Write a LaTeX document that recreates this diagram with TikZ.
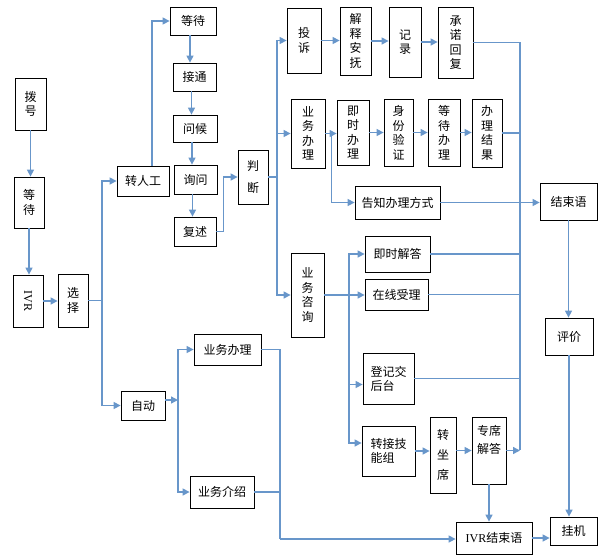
\documentclass[tikz,border=0pt]{standalone}
\usepackage{fontspec}
\usepackage{graphicx}
\setmainfont{Liberation Serif}
\newfontfamily\cjk{Noto Sans CJK SC}
\usetikzlibrary{arrows.meta}
\definecolor{lnc}{RGB}{104,150,202}
\newcommand\bx[7][box]{\node[#1,minimum width=#5pt,minimum height=#6pt] (#2) at (#3,#4) {#7};}
\begin{document}
\begin{tikzpicture}[x=1pt,y=-1pt,
 box/.style={draw=black,line width=0.8pt,inner sep=0pt,align=center,font=\cjk\fontsize{12}{14}\selectfont},
 vbox/.style={box,font=\cjk\fontsize{12}{14.5}\selectfont},
 lbox/.style={box,align=left},
 ln/.style={draw=lnc,line width=1.4pt},
 arr/.style={ln,-{Triangle[length=7pt,width=7pt]}}]
\useasboundingbox (0,0) rectangle (599,558);
% column 1
\bx[vbox]{dial}{30.5}{104}{31}{52}{拨\\号}
\bx[vbox]{wait1}{29}{202.5}{30}{51}{等\\待}
\bx[box]{ivr}{28}{301}{30}{52}{\rotatebox{-90}{\rmfamily IVR}}
\bx[vbox]{sel}{73}{300.5}{30}{53}{选\\择}
\bx{zr}{143}{181}{52}{30}{转人工}
\bx{auto}{143}{405.5}{44}{29}{自动}
% manual chain
\bx{wait2}{193}{21}{46}{28}{等待}
\bx{jt}{194.5}{77}{43}{28}{接通}
\bx{wh}{195}{128.5}{44}{27}{问候}
\bx{xw}{195.5}{179.5}{43}{29}{询问}
\bx{fs}{195}{231.5}{42}{29}{复述}
\bx[box,font=\cjk\fontsize{12}{22}\selectfont]{pd}{253}{177}{30}{54}{判\\断}
% complaint row
\bx[vbox]{ts}{304}{40.5}{34}{65}{投\\诉}
\bx[vbox]{jsaf}{355.5}{41}{31}{68}{解\\释\\安\\抚}
\bx[vbox]{jl}{405}{42}{32}{70}{记\\录}
\bx[vbox]{cnhf}{455.5}{42.5}{35}{71}{承\\诺\\回\\复}
% business row
\bx[vbox]{ywbl}{308}{133.5}{34}{69}{业\\务\\办\\理}
\bx[vbox]{jsbl}{353}{132.5}{32}{65}{即\\时\\办\\理}
\bx[vbox]{sfyz}{398.5}{132.5}{29}{67}{身\\份\\验\\证}
\bx[vbox]{ddbl}{444}{132.5}{32}{67}{等\\待\\办\\理}
\bx[vbox]{bljg}{487}{133}{30}{68}{办\\理\\结\\果}
\bx{gz}{397.5}{202.5}{85}{33}{告知办理方式}
\bx{jsy}{568.5}{201.5}{57}{37}{结束语}
% consult
\bx[vbox]{ywzx}{307.5}{295}{33}{84}{业\\务\\咨\\询}
\bx{jsjd}{397.5}{254}{65}{36}{即时解答}
\bx{zxsl}{396.5}{294.5}{63}{31}{在线受理}
\bx[lbox]{djht}{388.5}{378.5}{51}{51}{登记交\\后台}
\bx[lbox]{zjjn}{388.5}{451}{53}{50}{转接技\\能组}
\bx[box,font=\cjk\fontsize{12}{20}\selectfont]{zzx}{443}{455}{26}{76}{转\\坐\\席}
\bx[box,font=\cjk\fontsize{12}{18}\selectfont]{zxjd}{489}{450.5}{34}{67}{专席\\解答\\[4pt]}
\bx{pj}{569}{336.5}{48}{37}{评价}
% auto
\bx{ywbl2}{227.5}{349.5}{67}{31}{业务办理}
\bx{ywjs}{222}{492}{64}{32}{业务介绍}
\bx{ivrj}{494}{538}{76}{32}{{\rmfamily IVR}结束语}
\bx{gj}{573.5}{531}{47}{28}{挂机}
% junctions
\coordinate (j1) at (102,300.5);
\coordinate (j2) at (277,177);
\coordinate (j3) at (520,450);
\coordinate (j5) at (349,295);
\coordinate (j6) at (178,400);
\coordinate (j7) at (280,539);
% connectors column 1
\draw[arr] (dial.south) -- (dial.south |- wait1.north);
\draw[arr] (wait1.south) -- (wait1.south |- ivr.north);
\draw[arr] (ivr.east) -- (ivr.east -| sel.west);
\draw[ln] (sel.east) -- (j1);
\draw[arr] (j1) |- (zr.west);
\draw[arr] (j1) |- (auto.west);
% manual
\draw[arr] ([xshift=9pt]zr.north) |- (wait2.west);
\foreach \a/\b in {wait2/jt,jt/wh,wh/xw,xw/fs}
  \draw[arr] ([xshift=-3pt]\a.south) -- ([xshift=-3pt]\a.south |- \b.north);
\draw[arr] (fs.east) -- ++(7,0) |- (pd.west);
\draw[ln] (pd.east) -- (j2);
\draw[arr] (j2) |- (ts.west);
\draw[arr] (j2) |- (ywbl.west);
\draw[arr] (j2) |- (ywzx.west);
% complaint
\draw[arr] (ts.east) -- (ts.east -| jsaf.west);
\draw[arr] (jsaf.east) -- (jsaf.east -| jl.west);
\draw[arr] (jl.east) -- (jl.east -| cnhf.west);
\draw[ln] (cnhf.east) -| (j3);
% business
\draw[arr] (ywbl.east) -- (ywbl.east -| jsbl.west);
\draw[arr] (jsbl.east) -- (jsbl.east -| sfyz.west);
\draw[arr] (sfyz.east) -- (sfyz.east -| ddbl.west);
\draw[arr] (ddbl.east) -- (ddbl.east -| bljg.west);
\draw[ln] (bljg.east) -- (bljg.east -| j3);
\draw[arr] ([xshift=6pt]ywbl.east) |- (gz.west);
\draw[arr] (gz.east) -- (gz.east -| jsy.west);
\draw[arr] (jsy.south) -- (jsy.south |- pj.north);
\draw[arr] (pj.south) -- (pj.south |- gj.north);
% consult
\draw[arr] (ywzx.east) -- (ywzx.east -| zxsl.west);
\draw[arr] (j5) |- (jsjd.west);
\draw[arr] (j5) |- ([yshift=-6pt]djht.west);
\draw[arr] (j5) |- ([yshift=8pt]zjjn.west);
\draw[ln] (jsjd.east) -- (jsjd.east -| j3);
\draw[ln] (zxsl.east) -- (zxsl.east -| j3);
\draw[ln] (djht.east) -- (djht.east -| j3);
\draw[arr] (zjjn.east) -- (zjjn.east -| zzx.west);
\draw[arr] (zzx.east |- zxjd.west) -- (zxjd.west);
\draw[arr] (zxjd.east) -- (zxjd.east -| j3);
\draw[arr] (zxjd.south) -- (zxjd.south |- ivrj.north);
\draw[arr] (ivrj.east) -- (ivrj.east -| gj.west);
% auto
\draw[arr] ([yshift=5.5pt]auto.east) -- (j6);
\draw[arr] (j6) |- (ywbl2.west);
\draw[arr] (j6) |- (ywjs.west);
\draw[ln] (ywbl2.east) -| (j7);
\draw[ln] (ywjs.east) -- (ywjs.east -| j7);
\draw[arr] (j7) -- (j7 -| ivrj.west);
\end{tikzpicture}
\end{document}
